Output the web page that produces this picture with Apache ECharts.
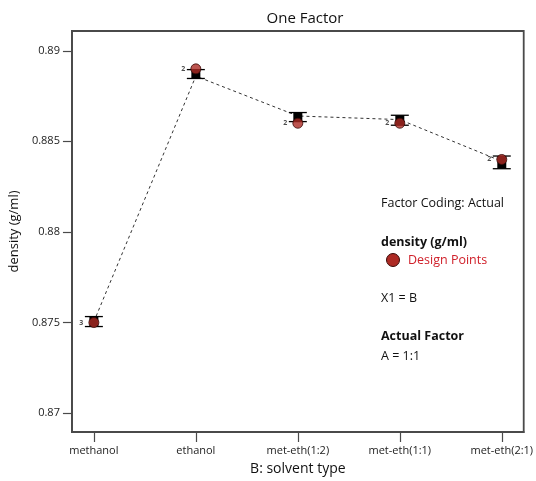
<!DOCTYPE html>
<html>
<head>
<meta charset="utf-8">
<script src="https://cdn.jsdelivr.net/npm/echarts@6/dist/echarts.min.js"></script>
<style>
  html, body { margin: 0; padding: 0; background: #fff; }
  #chart { width: 536px; height: 481px; }
</style>
</head>
<body>
<div id="chart"></div>
<script>
// Solvent type levels (x positions 0..4)
const categories = ['methanol', 'ethanol', 'met-eth(1:2)', 'met-eth(1:1)', 'met-eth(2:1)'];
// Model prediction (dashed line)
const predicted = [0.87505, 0.8886, 0.8864, 0.8862, 0.8839];
// LSD bar limits
const lsdLow  = [0.87478, 0.88847, 0.88609, 0.88589, 0.88349];
const lsdHigh = [0.87533, 0.88896, 0.88659, 0.88644, 0.88419];
// Observed design points and their replicate counts
const designPoints = [0.875, 0.889, 0.886, 0.886, 0.884];
const replicates = [3, 2, 2, 2, 2];
// Y tick labels
const yTicks = [0.87, 0.875, 0.88, 0.885, 0.89];
const xTicks = [0, 1, 2, 3, 4];

const FONT = '"Open Sans", "Noto Sans", sans-serif';
const chart = echarts.init(document.getElementById('chart'), null, { renderer: 'canvas' });

const lineData = predicted.map((v, i) => [i, v]);
const barData = lsdLow.map((v, i) => [i, v, lsdHigh[i]]);
const pointData = designPoints.map((v, i) => ({ value: [i, v], reps: replicates[i] }));

chart.setOption({
  animation: false,
  title: {
    text: 'One Factor',
    left: 300, top: 6, textAlign: 'center',
    textStyle: { fontFamily: FONT, fontSize: 15, fontWeight: 'normal', color: '#111' }
  },
  grid: {
    left: 70, top: 31, width: 456, height: 405,
    show: true, borderColor: '#4a4a4a', borderWidth: 1.8, backgroundColor: '#fff'
  },
  xAxis: {
    type: 'value', min: -0.215, max: 4.215,
    name: 'B: solvent type', nameLocation: 'middle', nameGap: 30,
    nameTextStyle: { fontFamily: FONT, fontSize: 14, color: '#111' },
    axisLine: { show: true, onZero: false, lineStyle: { color: '#4a4a4a', width: 1.8 } },
    axisTick: { show: true, customValues: xTicks, length: 10, lineStyle: { color: '#4a4a4a', width: 1.2 } },
    axisLabel: {
      customValues: xTicks, margin: 13,
      fontFamily: FONT, fontSize: 11, color: '#222',
      formatter: v => categories[Math.round(v)]
    },
    splitLine: { show: false }
  },
  yAxis: {
    type: 'value', min: 0.86896, max: 0.89109,
    name: 'density (g/ml)', nameLocation: 'middle', nameGap: 46, nameRotate: 90,
    nameTextStyle: { fontFamily: FONT, fontSize: 13, color: '#111' },
    axisLine: { show: true, onZero: false, lineStyle: { color: '#4a4a4a', width: 1.8 } },
    axisTick: { show: true, customValues: yTicks, length: 9, lineStyle: { color: '#4a4a4a', width: 1.2 } },
    axisLabel: {
      customValues: yTicks, margin: 12,
      fontFamily: FONT, fontSize: 11, color: '#222',
      formatter: v => String(+v.toFixed(3))
    },
    splitLine: { show: false }
  },
  series: [
    {
      type: 'line', data: lineData, symbol: 'none', z: 2,
      lineStyle: { color: '#333', width: 1, type: [3, 3] }
    },
    {
      type: 'custom', data: barData, z: 3,
      renderItem: (params, api) => {
        const x = api.value(0);
        const top = api.coord([x, api.value(2)]);
        const bot = api.coord([x, api.value(1)]);
        const w = 9, cap = 9;
        return {
          type: 'group',
          children: [
            { type: 'rect', shape: { x: top[0] - w / 2, y: top[1], width: w, height: bot[1] - top[1] },
              style: { fill: '#000' } },
            { type: 'line', shape: { x1: top[0] - cap, y1: top[1], x2: top[0] + cap, y2: top[1] },
              style: { stroke: '#000', lineWidth: 1.3 } },
            { type: 'line', shape: { x1: bot[0] - cap, y1: bot[1], x2: bot[0] + cap, y2: bot[1] },
              style: { stroke: '#000', lineWidth: 1.3 } }
          ]
        };
      }
    },
    {
      type: 'scatter', data: pointData, z: 4,
      symbol: 'circle', symbolSize: 10,
      itemStyle: { color: '#ad2a24', borderColor: '#3a0a08', borderWidth: 1 },
      label: {
        show: true, position: 'left', distance: 5,
        formatter: p => String(p.data.reps),
        fontFamily: FONT, fontSize: 7, fontWeight: 'bold', color: '#222'
      }
    }
  ],
  graphic: [
    { type: 'text', left: 381, top: 197,
      style: { text: 'Factor Coding: Actual', font: '12.5px ' + FONT, fill: '#111' } },
    { type: 'text', left: 381, top: 236,
      style: { text: 'density (g/ml)', font: 'bold 12.5px ' + FONT, fill: '#111' } },
    { type: 'circle', shape: { cx: 393, cy: 260, r: 6.5 },
      style: { fill: '#ad2a24', stroke: '#3a0a08', lineWidth: 1 } },
    { type: 'text', left: 408, top: 254,
      style: { text: 'Design Points', font: '12.5px ' + FONT, fill: '#d0202a' } },
    { type: 'text', left: 381, top: 292,
      style: { text: 'X1 = B', font: '12.5px ' + FONT, fill: '#111' } },
    { type: 'text', left: 381, top: 330,
      style: { text: 'Actual Factor', font: 'bold 12.5px ' + FONT, fill: '#111' } },
    { type: 'text', left: 381, top: 350,
      style: { text: 'A = 1:1', font: '12.5px ' + FONT, fill: '#111' } }
  ]
});
</script>
</body>
</html>
